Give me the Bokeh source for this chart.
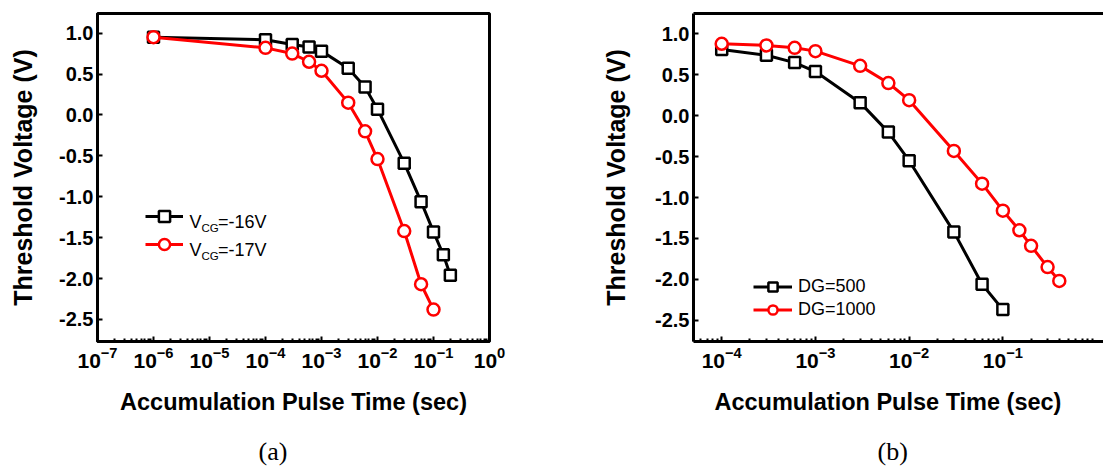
from bokeh.plotting import figure
from bokeh.models import (FixedTicker, Legend, LegendItem, Label, Title, LinearAxis,
                          PrintfTickFormatter)
from bokeh.layouts import row
from bokeh.embed import file_html
from bokeh.resources import INLINE

# ---------------- data ----------------
# Panel (a)
a_time16 = [1e-6, 1e-4, 3e-4, 6e-4, 1e-3, 3e-3, 6e-3, 1e-2, 3e-2, 6e-2, 1e-1, 0.15, 0.2]
a_vth16 = [0.95, 0.92, 0.86, 0.83, 0.78, 0.57, 0.34, 0.07, -0.59, -1.06, -1.43, -1.71, -1.96]
a_time17 = [1e-6, 1e-4, 3e-4, 6e-4, 1e-3, 3e-3, 6e-3, 1e-2, 3e-2, 6e-2, 1e-1]
a_vth17 = [0.95, 0.82, 0.75, 0.65, 0.54, 0.15, -0.20, -0.54, -1.42, -2.07, -2.38]
# Panel (b)
b_time500 = [1e-4, 3e-4, 6e-4, 1e-3, 3e-3, 6e-3, 1e-2, 3e-2, 6e-2, 1e-1]
b_vth500 = [0.81, 0.74, 0.65, 0.54, 0.16, -0.20, -0.55, -1.42, -2.06, -2.37]
b_time1000 = [1e-4, 3e-4, 6e-4, 1e-3, 3e-3, 6e-3, 1e-2, 3e-2, 6e-2, 1e-1, 0.15, 0.2, 0.3, 0.4]
b_vth1000 = [0.88, 0.86, 0.83, 0.79, 0.61, 0.40, 0.19, -0.43, -0.83, -1.16, -1.40, -1.59, -1.85, -2.02]

y_ticks = [-2.5, -2.0, -1.5, -1.0, -0.5, 0.0, 0.5, 1.0]
a_x_exps = [-7, -6, -5, -4, -3, -2, -1, 0]
b_x_exps = [-4, -3, -2, -1]

x_title = "Accumulation Pulse Time (sec)"
y_title = "Threshold Voltage (V)"
captions = ["(a)", "(b)"]

SANS = "Liberation Sans"
SERIF = "Liberation Serif"


def decade_ticks(exps, lo_exp, hi_exp):
    major = [10.0 ** e for e in exps]
    minor = [k * 10.0 ** e for e in range(lo_exp, hi_exp) for k in range(2, 10)]
    return major, minor


def style(p, xaxis, yaxis, x_major, x_minor):
    p.background_fill_color = "white"
    p.border_fill_color = "white"
    p.xgrid.visible = False
    p.ygrid.visible = False
    for ax in (xaxis, yaxis):
        ax.axis_line_width = 3
        ax.axis_line_color = "black"
        ax.major_tick_line_width = 2
        ax.major_tick_line_color = "black"
        ax.major_tick_in = 5
        ax.major_tick_out = 0
        ax.minor_tick_line_width = 2
        ax.minor_tick_line_color = "black"
        ax.minor_tick_in = 3
        ax.minor_tick_out = 0
        ax.major_label_text_font = SANS
        ax.major_label_text_font_style = "bold"
        ax.major_label_text_color = "black"
        ax.axis_label_text_font = SANS
        ax.axis_label_text_font_style = "bold"
        ax.axis_label_text_color = "black"
    xaxis.ticker = FixedTicker(ticks=x_major, minor_ticks=x_minor)
    xaxis.major_label_text_font_size = "21px"
    xaxis.major_label_standoff = 5
    yaxis.ticker = FixedTicker(ticks=y_ticks)
    yaxis.formatter = PrintfTickFormatter(format="%.1f")
    yaxis.minor_tick_line_color = None
    yaxis.major_label_text_font_size = "20px"
    yaxis.major_label_standoff = 4
    yaxis.axis_label = y_title
    yaxis.axis_label_text_font_size = "25px"


def series(p, xs, ys, color, marker, size):
    ln = p.line(xs, ys, line_color=color, line_width=3)
    sc = p.scatter(xs, ys, marker=marker, size=size, line_color=color,
                   line_width=2.5, fill_color="white")
    return ln, sc


def bottom_texts(p, title_align, title_offset, cap_text, cap_offset):
    # x-axis title and the panel caption, stacked under the x axis
    p.add_layout(Title(text=x_title, align=title_align, offset=title_offset,
                       text_font=SANS, text_font_size="23.5px",
                       text_font_style="bold", text_color="black",
                       standoff=33), "below")
    p.add_layout(Title(text=cap_text, align="left", offset=cap_offset,
                       text_font=SERIF, text_font_size="26px",
                       text_font_style="normal", text_color="black",
                       standoff=6), "below")


H = 472

# ---------------- panel (a) ----------------
pa = figure(width=560, height=H, x_axis_type="log",
            x_range=(1e-7, 1e0), y_range=(-2.77, 1.24),
            min_border_left=97, min_border_right=71, min_border_top=13,
            min_border_bottom=H - 341, output_backend="svg", toolbar_location=None)
pa.outline_line_color = "black"
pa.outline_line_width = 3
ma, mi = decade_ticks(a_x_exps, -7, 0)
style(pa, pa.below[0], pa.left[0], ma, mi)
pa.left[0].axis_label_standoff = 19

l16, s16 = series(pa, a_time16, a_vth16, "black", "square", 11)
l17, s17 = series(pa, a_time17, a_vth17, "red", "circle", 12)

leg_a = Legend(items=[LegendItem(label=" ", renderers=[l16, s16]),
                      LegendItem(label=" ", renderers=[l17, s17])],
               location=(48, 83), orientation="vertical",
               glyph_width=38, glyph_height=28, label_width=0, label_height=28,
               label_standoff=0, padding=0, margin=0, spacing=0,
               border_line_color=None, background_fill_alpha=0)
pa.add_layout(leg_a)

for yv, lab in [(-1.311, "=-16V"), (-1.653, "=-17V")]:
    common = dict(x=4.4e-6, y=yv, text_font=SANS, text_color="black",
                  text_baseline="alphabetic", text_align="left")
    pa.add_layout(Label(text="V", text_font_size="18px", **common))
    pa.add_layout(Label(text="CG", text_font_size="11.5px", x_offset=12,
                        y_offset=-6, **common))
    pa.add_layout(Label(text=lab, text_font_size="18px", x_offset=28.5, **common))

bottom_texts(pa, "center", 0, captions[0], 161)

# ---------------- panel (b) ----------------
pb = figure(width=543, height=H, x_axis_type="log",
            x_range=(5.0e-5, 1.185), y_range=(-2.76, 1.25),
            min_border_left=133, min_border_right=0, min_border_top=11,
            min_border_bottom=H - 341, output_backend="svg", toolbar_location=None)
pb.outline_line_color = None
mb, mib = decade_ticks(b_x_exps, -5, 0)
style(pb, pb.below[0], pb.left[0], mb, mib)
pb.left[0].axis_label_standoff = 22

top_axis = LinearAxis(ticker=FixedTicker(ticks=[]), axis_line_width=3,
                      axis_line_color="black", major_tick_line_color=None,
                      minor_tick_line_color=None, major_label_text_font_size="0px")
pb.add_layout(top_axis, "above")

l500, s500 = series(pb, b_time500, b_vth500, "black", "square", 11)
l1000, s1000 = series(pb, b_time1000, b_vth1000, "red", "circle", 12)

leg_b = Legend(items=[LegendItem(label="DG=500", renderers=[l500, s500]),
                      LegendItem(label="DG=1000", renderers=[l1000, s1000])],
               location=(60, 20), orientation="vertical",
               glyph_width=39, glyph_height=23, label_height=23,
               label_standoff=6, padding=0, margin=0, spacing=0,
               label_text_font=SANS, label_text_font_size="18px",
               label_text_color="black",
               border_line_color=None, background_fill_alpha=0)
pb.add_layout(leg_b)

bottom_texts(pb, "left", 21, captions[1], 184)

layout = row(pa, pb, spacing=0)
open("out.html", "w").write(file_html(layout, INLINE))
